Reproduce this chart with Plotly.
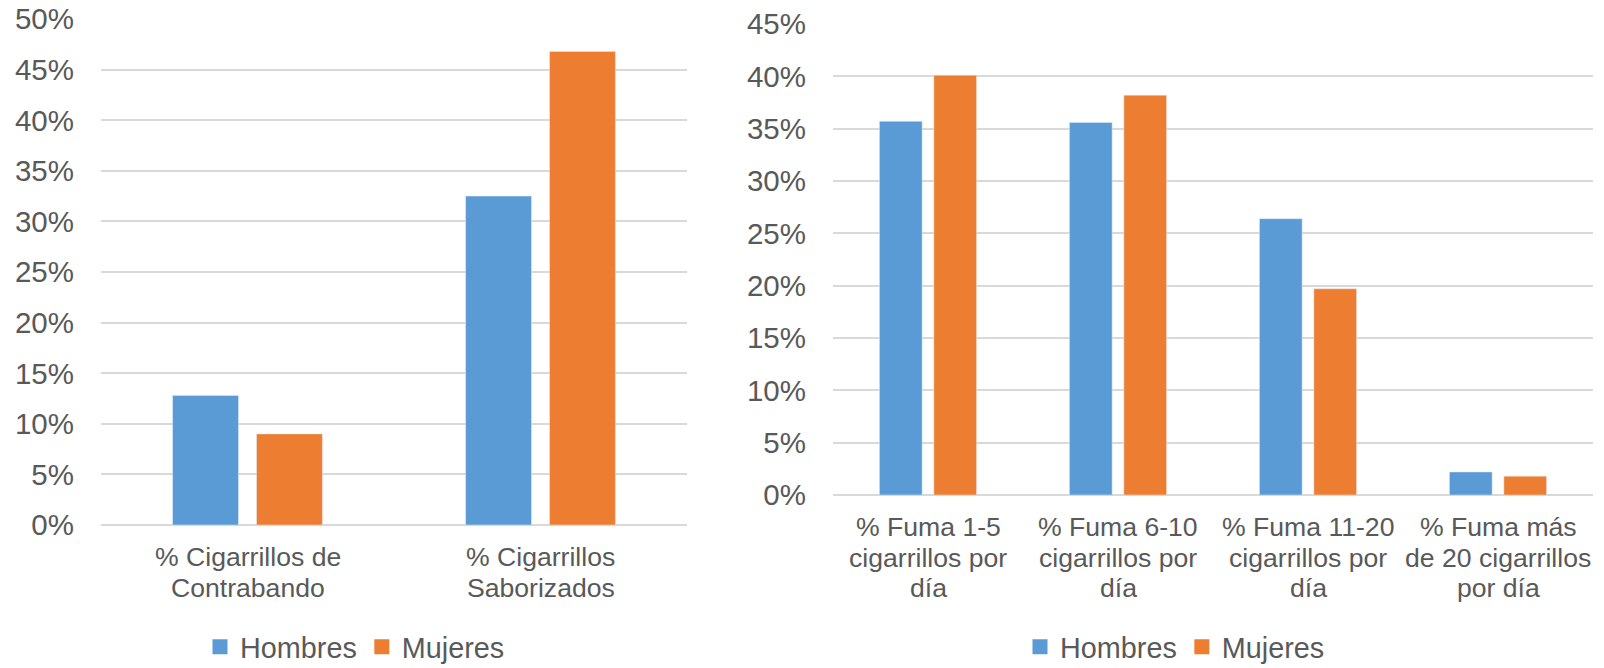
import plotly.graph_objects as go

# ---- data ----
cats_left = ["% Cigarrillos de<br>Contrabando", "% Cigarrillos<br>Saborizados"]
hombres_left = [0.128, 0.325]
mujeres_left = [0.090, 0.468]

cats_right = ["% Fuma 1-5<br>cigarrillos por<br>día", "% Fuma 6-10<br>cigarrillos por<br>día",
              "% Fuma 11-20<br>cigarrillos por<br>día", "% Fuma más<br>de 20 cigarrillos<br>por día"]
hombres_right = [0.357, 0.356, 0.264, 0.022]
mujeres_right = [0.401, 0.382, 0.197, 0.018]

series_names = ["Hombres", "Mujeres"]
colors = ["#5B9BD5", "#ED7D31"]

W, H = 1604, 668
FONT = "Liberation Sans, Arial, sans-serif"
TXT = "#595959"
GRID = "#D9D9D9"

fig = go.Figure()

panels = [
    ("x", "y", "legend", cats_left, [hombres_left, mujeres_left]),
    ("x2", "y2", "legend2", cats_right, [hombres_right, mujeres_right]),
]
for xa, ya, lg, cats, vals in panels:
    for name, col, v in zip(series_names, colors, vals):
        fig.add_trace(go.Bar(x=cats, y=v, name=name, marker_color=col,
                             xaxis=xa, yaxis=ya, showlegend=False))
    # legend entries with larger square swatches (Excel-like)
    for name, col in zip(series_names, colors):
        fig.add_trace(go.Scatter(x=[None], y=[None], mode="markers", name=name,
                                 marker=dict(symbol="square", size=15, color=col),
                                 xaxis=xa, yaxis=ya, legend=lg, showlegend=True))

def px_x(p):
    return p / W

def px_y(p):
    return (H - p) / H

ytick_font = dict(family=FONT, size=29.5, color=TXT)
xlab_font = dict(family=FONT, size=26.6, color=TXT)

# category labels: one annotation per line (Excel-like tight line spacing)
LINE_GAP = 30.5
FIRST = 32
for xref, yref, lg, cats, _ in panels:
    for c in cats:
        for i, line in enumerate(c.split("<br>")):
            fig.add_annotation(x=c, y=0, xref=xref, yref=yref, text=line, showarrow=False,
                               xanchor="center", yanchor="middle",
                               yshift=-(FIRST + i * LINE_GAP), font=xlab_font)

fig.update_layout(
    width=W, height=H,
    margin=dict(l=0, r=0, t=0, b=0, autoexpand=False),
    paper_bgcolor="white", plot_bgcolor="white",
    barmode="group", bargap=0.427, bargroupgap=0.215,
    font=dict(family=FONT, color=TXT),
    xaxis=dict(domain=[px_x(101), px_x(687)], anchor="y", showgrid=False, showline=False,
               showticklabels=False, ticks="", automargin=False),
    yaxis=dict(domain=[px_y(525), px_y(19)], anchor="x", range=[0, 0.5], dtick=0.05,
               tickformat=".0%", showgrid=True, gridcolor=GRID, gridwidth=1.5,
               zeroline=True, zerolinecolor=GRID, zerolinewidth=1.5, showline=False,
               tickfont=ytick_font, ticks="", ticklabelstandoff=26, automargin=False),
    xaxis2=dict(domain=[px_x(833), px_x(1593)], anchor="y2", showgrid=False, showline=False,
                showticklabels=False, ticks="", automargin=False),
    yaxis2=dict(domain=[px_y(495), px_y(24)], anchor="x2", range=[0, 0.45], dtick=0.05,
                tickformat=".0%", showgrid=True, gridcolor=GRID, gridwidth=1.5,
                zeroline=True, zerolinecolor=GRID, zerolinewidth=1.5, showline=False,
                tickfont=ytick_font, ticks="", ticklabelstandoff=26, automargin=False),
    legend=dict(orientation="h", x=px_x(200), xanchor="left", y=px_y(647), yanchor="middle",
                font=dict(family=FONT, size=28.8, color=TXT), bgcolor="rgba(0,0,0,0)"),
    legend2=dict(orientation="h", x=px_x(1020), xanchor="left", y=px_y(647), yanchor="middle",
                 font=dict(family=FONT, size=28.8, color=TXT), bgcolor="rgba(0,0,0,0)"),
)

fig.write_html("out.html", config={"displayModeBar": False},
               post_script="document.body.style.margin='0px';document.body.style.overflow='hidden';")
